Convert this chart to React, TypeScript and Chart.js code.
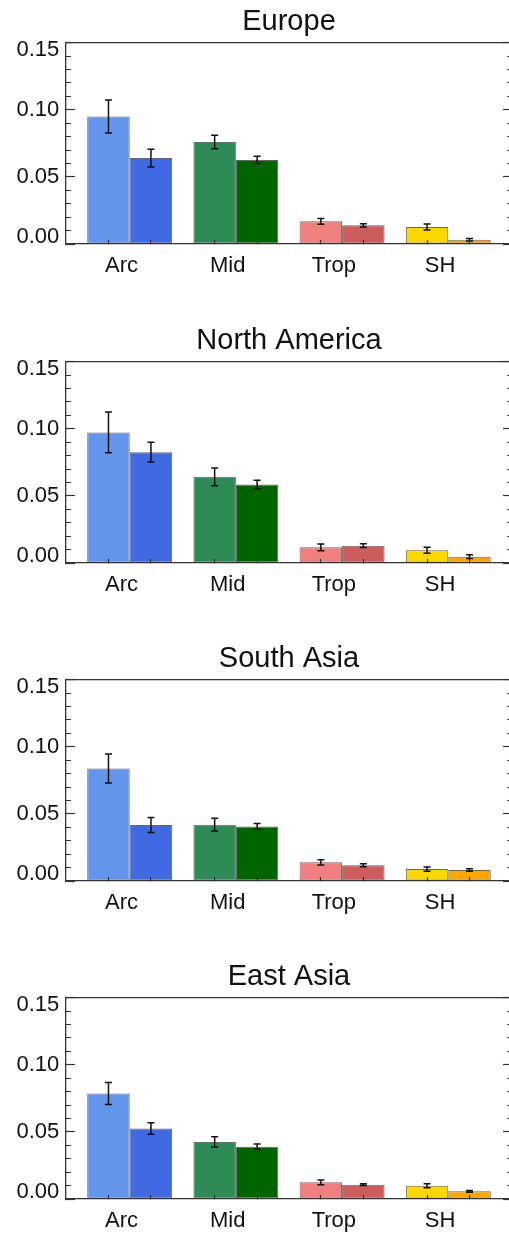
import React, { useEffect, useRef } from 'react';
import { Chart, registerables } from 'chart.js';

Chart.register(...registerables);

const FONT = '"Liberation Sans", Arial, Helvetica, sans-serif';
Chart.defaults.font.family = FONT;

const categories = ['Arc', 'Mid', 'Trop', 'SH'];
const yTickLabels = ['0.00', '0.05', '0.10', '0.15'];

const europeFirst = [0.095, 0.076, 0.0169, 0.0127];
const europeFirstErr = [0.0123, 0.005, 0.0021, 0.0022];
const europeSecond = [0.064, 0.0626, 0.0139, 0.0032];
const europeSecondErr = [0.0066, 0.0027, 0.0012, 0.0009];

const northAmericaFirst = [0.0973, 0.0642, 0.0117, 0.0095];
const northAmericaFirstErr = [0.0152, 0.0066, 0.0025, 0.0022];
const northAmericaSecond = [0.0826, 0.0585, 0.0129, 0.0047];
const northAmericaSecondErr = [0.0073, 0.0031, 0.0014, 0.0014];

const southAsiaFirst = [0.0839, 0.042, 0.0139, 0.0089];
const southAsiaFirstErr = [0.0108, 0.0047, 0.0019, 0.0016];
const southAsiaSecond = [0.0417, 0.0407, 0.0117, 0.0082];
const southAsiaSecondErr = [0.0056, 0.0022, 0.0011, 0.0009];

const eastAsiaFirst = [0.0787, 0.0425, 0.0124, 0.0099];
const eastAsiaFirstErr = [0.0082, 0.0038, 0.0017, 0.0015];
const eastAsiaSecond = [0.0526, 0.039, 0.0107, 0.0057];
const eastAsiaSecondErr = [0.0043, 0.002, 0.0007, 0.0007];

const lightColors = ['#6495ED', '#2E8B57', '#F08080', '#FFD700'];
const darkColors = ['#4169E1', '#006400', '#CD5C5C', '#FFA500'];

const panels = [
  { title: 'Europe', a: europeFirst, aErr: europeFirstErr, b: europeSecond, bErr: europeSecondErr },
  { title: 'North America', a: northAmericaFirst, aErr: northAmericaFirstErr, b: northAmericaSecond, bErr: northAmericaSecondErr },
  { title: 'South Asia', a: southAsiaFirst, aErr: southAsiaFirstErr, b: southAsiaSecond, bErr: southAsiaSecondErr },
  { title: 'East Asia', a: eastAsiaFirst, aErr: eastAsiaFirstErr, b: eastAsiaSecond, bErr: eastAsiaSecondErr },
];

const PANEL_TOPS = [0, 319, 637, 955];
const CANVAS_W = 520;
const CANVAS_H = 318;
const FRAME = '#333333';

const yTicks = () => Array.from({ length: 16 }, (_, k) => ({ value: k / 100 }));
const isMajor = (v: number) => Math.round(v * 100) % 5 === 0;

const errorBarPlugin = {
  id: 'errorBars',
  afterDatasetsDraw(chart: any) {
    const { ctx } = chart;
    const yScale = chart.scales.y;
    chart.data.datasets.forEach((ds: any, di: number) => {
      const errs = ds.errors;
      if (!errs) return;
      const meta = chart.getDatasetMeta(di);
      meta.data.forEach((bar: any, i: number) => {
        const v = ds.data[i].y;
        const e = errs[i];
        const x = bar.x;
        const yTop = yScale.getPixelForValue(v + e);
        const yBot = yScale.getPixelForValue(Math.max(0, v - e));
        const cap = 3.5;
        ctx.save();
        ctx.strokeStyle = '#111';
        ctx.lineWidth = 1.5;
        ctx.beginPath();
        ctx.moveTo(x, yTop);
        ctx.lineTo(x, yBot);
        ctx.moveTo(x - cap, yTop);
        ctx.lineTo(x + cap, yTop);
        ctx.moveTo(x - cap, yBot);
        ctx.lineTo(x + cap, yBot);
        ctx.stroke();
        ctx.restore();
      });
    });
  },
};

function Panel({ title, a, aErr, b, bErr }: any) {
  const ref = useRef<HTMLCanvasElement>(null);
  useEffect(() => {
    if (!ref.current) return;
    const chart = new Chart(ref.current, {
      type: 'bar',
      data: {
        datasets: [
          {
            label: 'first',
            data: categories.map((_, i) => ({ x: i, y: a[i] })),
            errors: aErr,
            backgroundColor: lightColors,
            borderColor: 'rgba(85,85,85,0.9)',
            borderWidth: 1,
            borderSkipped: false,
          } as any,
          {
            label: 'second',
            data: categories.map((_, i) => ({ x: i, y: b[i] })),
            errors: bErr,
            backgroundColor: darkColors,
            borderColor: 'rgba(85,85,85,0.9)',
            borderWidth: 1,
            borderSkipped: false,
          } as any,
        ],
      },
      options: {
        responsive: false,
        animation: false,
        layout: { padding: 0 },
        datasets: { bar: { categoryPercentage: 2, barPercentage: 1 } },
        plugins: {
          legend: { display: false },
          tooltip: { enabled: false },
          title: {
            display: true,
            text: title,
            fullSize: false,
            color: '#111',
            font: { family: FONT, size: 29, weight: 'normal', lineHeight: 1.2 },
            padding: { top: 4.3, bottom: 3.6 },
          },
        },
        scales: {
          x: {
            type: 'linear',
            position: 'bottom',
            min: -0.6,
            max: 3.6,
            bounds: 'data',
            offset: false,
            afterBuildTicks: (s: any) => {
              s.ticks = categories.flatMap((_, i) => [{ value: i - 0.2 }, { value: i + 0.2 }]);
            },
            afterFit: (s: any) => {
              s.height = 74;
            },
            ticks: {
              autoSkip: false,
              maxRotation: 0,
              minRotation: 0,
              color: '#111',
              padding: 12.8,
              labelOffset: 13,
              font: { family: FONT, size: 22, lineHeight: 1.2 },
              callback: (_v: any, i: number) => (i % 2 === 0 ? categories[i / 2] : ''),
            },
            grid: {
              offset: false,
              drawOnChartArea: false,
              drawTicks: true,
              tickLength: -4,
              tickColor: FRAME,
              tickWidth: 1.2,
              z: 1,
            },
            border: { display: true, color: FRAME, width: 1.3, z: 1 },
          },
          xTop: {
            type: 'linear',
            position: 'top',
            min: -0.6,
            max: 3.6,
            bounds: 'data',
            offset: false,
            afterFit: (s: any) => {
              s.height = 0;
            },
            ticks: { display: false },
            grid: { offset: false, drawOnChartArea: false, drawTicks: false },
            border: { display: true, color: FRAME, width: 1.3, z: 1 },
          },
          y: {
            type: 'linear',
            position: 'left',
            min: 0,
            max: 0.15,
            bounds: 'data',
            afterBuildTicks: (s: any) => {
              s.ticks = yTicks();
            },
            afterFit: (s: any) => {
              s.width = 66;
            },
            ticks: {
              autoSkip: false,
              color: '#111',
              padding: 15.7,
              font: { family: FONT, size: 22, lineHeight: 0.66 },
              callback: (v: any) => {
                const k = Math.round(Number(v) * 100);
                if (k % 5 !== 0) return '';
                const text = yTickLabels[k / 5];
                if (k === 0) return [text, ''];
                if (k === 15) return ['', text];
                return text;
              },
            },
            grid: {
              drawOnChartArea: false,
              drawTicks: true,
              tickLength: -9,
              tickColor: FRAME,
              tickWidth: 1.2,
              tickBorderDash: (ctx: any) => (ctx.tick && isMajor(ctx.tick.value) ? [] : [0, 4, 5, 100]),
              z: 1,
            },
            border: { display: true, color: FRAME, width: 1.3, z: 1 },
          },
          yRight: {
            type: 'linear',
            position: 'right',
            min: 0,
            max: 0.15,
            bounds: 'data',
            afterBuildTicks: (s: any) => {
              s.ticks = yTicks();
            },
            afterFit: (s: any) => {
              s.width = CANVAS_W - 512;
            },
            ticks: { display: false },
            grid: {
              drawOnChartArea: false,
              drawTicks: true,
              tickLength: -9,
              tickColor: FRAME,
              tickWidth: 1.2,
              tickBorderDash: (ctx: any) => (ctx.tick && isMajor(ctx.tick.value) ? [] : [5, 100]),
              z: 1,
            },
            border: { display: true, color: FRAME, width: 1.3, z: 1 },
          },
        },
      } as any,
      plugins: [errorBarPlugin],
    });
    return () => chart.destroy();
  }, [title, a, aErr, b, bErr]);

  return (
    <canvas
      ref={ref}
      width={CANVAS_W}
      height={CANVAS_H}
      style={{ display: 'block', width: CANVAS_W, height: CANVAS_H }}
    />
  );
}

export default function App() {
  return (
    <div
      style={{
        position: 'fixed',
        left: 0,
        top: 0,
        width: 509,
        height: 1235,
        overflow: 'hidden',
        background: '#fff',
      }}
    >
      {panels.map((p, i) => (
        <div key={p.title} style={{ position: 'absolute', left: 0, top: PANEL_TOPS[i], width: CANVAS_W, height: CANVAS_H }}>
          <Panel {...p} />
        </div>
      ))}
    </div>
  );
}
